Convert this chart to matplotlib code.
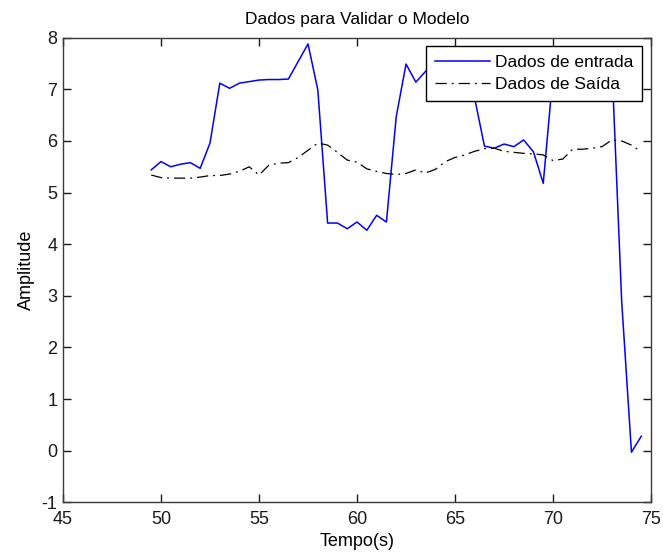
import matplotlib
matplotlib.use("Agg")
import matplotlib.pyplot as plt

plt.rcParams['font.family'] = ['Liberation Sans', 'DejaVu Sans']
plt.rcParams['axes.unicode_minus'] = False

# tempo de amostragem (s)
tempo = [49.5, 50.0, 50.5, 51.0, 51.5, 52.0, 52.5, 53.0, 53.5, 54.0,
         54.5, 55.0, 55.5, 56.0, 56.5, 57.0, 57.5, 58.0, 58.5, 59.0,
         59.5, 60.0, 60.5, 61.0, 61.5, 62.0, 62.5, 63.0, 63.5, 64.0,
         64.5, 65.0, 65.5, 66.0, 66.5, 67.0, 67.5, 68.0, 68.5, 69.0,
         69.5, 70.0, 70.5, 71.0, 71.5, 72.0, 72.5, 73.0, 73.5, 74.0,
         74.5]

entrada = [5.44, 5.60, 5.50, 5.55, 5.58, 5.47, 5.96, 7.12, 7.02, 7.12,
           7.15, 7.18, 7.19, 7.19, 7.20, 7.54, 7.88, 6.99, 4.41, 4.41,
           4.30, 4.43, 4.27, 4.56, 4.43, 6.47, 7.49, 7.14, 7.35, 7.50,
           7.60, 7.60, 7.30, 6.83, 5.90, 5.86, 5.94, 5.89, 6.02, 5.79,
           5.18, 7.30, 7.60, 7.50, 7.60, 7.50, 7.60, 7.50, 2.90, -0.03,
           0.28]

saida = [5.34, 5.29, 5.28, 5.28, 5.28, 5.30, 5.33, 5.33, 5.36, 5.41,
         5.50, 5.34, 5.53, 5.57, 5.58, 5.68, 5.82, 5.96, 5.92, 5.78,
         5.63, 5.59, 5.46, 5.41, 5.37, 5.35, 5.37, 5.44, 5.38, 5.45,
         5.60, 5.68, 5.73, 5.80, 5.85, 5.86, 5.80, 5.78, 5.76, 5.75,
         5.73, 5.62, 5.65, 5.84, 5.84, 5.86, 5.89, 6.02, 6.00, 5.92,
         5.79]

fig = plt.figure(figsize=(6.63, 5.55), dpi=100)
ax = fig.add_axes([0.095, 0.095, 0.887, 0.837])

ax.plot(tempo, entrada, color='#0000ff', lw=1.1, label='Dados de entrada')
ax.plot(tempo, saida, color='black', lw=0.9, dashes=(9, 4, 1.5, 4), label='Dados de Saída')

ax.set_xlim(45, 75)
ax.set_ylim(-1, 8)
ax.set_xticks(range(45, 76, 5))
ax.set_yticks(range(-1, 9))
ax.tick_params(direction='in', length=6, width=1, top=True, right=True,
               labelsize=13, colors='#1a1a1a')
ax.tick_params(axis='x', pad=6)
ax.tick_params(axis='y', pad=4)
for s in ax.spines.values():
    s.set_color('#3a3a3a')
    s.set_linewidth(1)

ax.set_title('Dados para Validar o Modelo', fontsize=12.5, pad=10)
ax.set_xlabel('Tempo(s)', fontsize=13, labelpad=4)
ax.set_ylabel('Amplitude', fontsize=13, labelpad=5)

leg = ax.legend(loc='upper right', fontsize=12.5, frameon=True, fancybox=False,
                edgecolor='black', framealpha=1, borderaxespad=0.5,
                handlelength=3.2, handletextpad=0.3, borderpad=0.5,
                labelspacing=0.4)
leg.get_frame().set_linewidth(1)

fig.savefig('out.png', dpi=100)
